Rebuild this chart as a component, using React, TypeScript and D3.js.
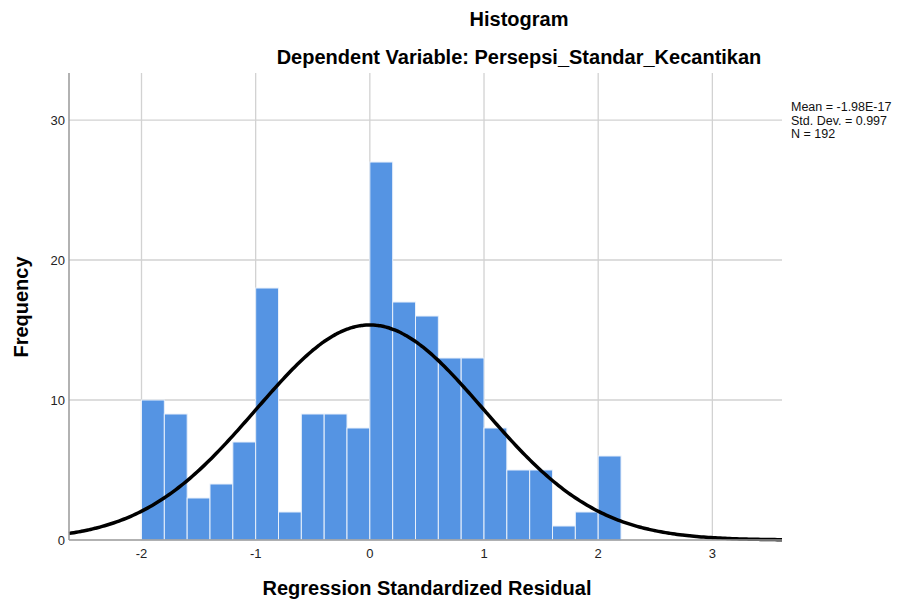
import { useEffect, useRef } from "react";
import * as d3 from "d3";

// histogram bins (start of each 0.2-wide bin) and counts
const BIN_STARTS = [-2.0, -1.8, -1.6, -1.4, -1.2, -1.0, -0.8, -0.6, -0.4, -0.2, 0.0, 0.2, 0.4, 0.6, 0.8, 1.0, 1.2, 1.4, 1.6, 1.8, 2.0];
const COUNTS = [10, 9, 3, 4, 7, 18, 2, 9, 9, 8, 27, 17, 16, 13, 13, 8, 5, 5, 1, 2, 6];
const BIN_WIDTH = 0.2;
const MEAN = -1.98e-17;
const SD = 0.997;
const N = 192;
const X_TICKS = [-2, -1, 0, 1, 2, 3];
const Y_TICKS = [0, 10, 20, 30];
const STATS = ["Mean = -1.98E-17", "Std. Dev. = 0.997", "N = 192"];

const FONT = "'Liberation Sans', Arial, sans-serif";

const App = () => {
  const svgRef = useRef<SVGSVGElement>(null);

  useEffect(() => {
    if (!svgRef.current) return;
    const width = 900;
    const height = 604;
    const margin = { top: 73, right: 118, bottom: 64, left: 69 };

    const svg = d3.select(svgRef.current);
    svg.selectAll("*").remove();

    const x = d3.scaleLinear().domain([-2.635, 3.61]).range([margin.left, width - margin.right]);
    const y = d3.scaleLinear().domain([0, 33.36]).range([height - margin.bottom, margin.top]);

    // Gridlines
    svg
      .append("g")
      .selectAll("line")
      .data(Y_TICKS.filter((t) => t > 0))
      .join("line")
      .attr("x1", margin.left)
      .attr("x2", width - margin.right)
      .attr("y1", (d) => y(d))
      .attr("y2", (d) => y(d))
      .attr("stroke", "#d2d2d2")
      .attr("stroke-width", 1.3);

    svg
      .append("g")
      .selectAll("line")
      .data(X_TICKS)
      .join("line")
      .attr("x1", (d) => x(d))
      .attr("x2", (d) => x(d))
      .attr("y1", margin.top)
      .attr("y2", height - margin.bottom)
      .attr("stroke", "#d2d2d2")
      .attr("stroke-width", 1.3);

    // Bars
    svg
      .append("g")
      .selectAll("rect")
      .data(COUNTS)
      .join("rect")
      .attr("x", (_, i) => x(BIN_STARTS[i]))
      .attr("y", (d) => y(d))
      .attr("width", (_, i) => x(BIN_STARTS[i] + BIN_WIDTH) - x(BIN_STARTS[i]))
      .attr("height", (d) => y(0) - y(d))
      .attr("fill", "#5594e3")
      .attr("stroke", "#e8f0fb")
      .attr("stroke-width", 1);

    // Normal curve
    const [x0, x1] = x.domain();
    const pts = d3.range(0, 301).map((i) => x0 + ((x1 - x0) * i) / 300);
    const pdf = (v: number) =>
      (N * BIN_WIDTH * Math.exp(-((v - MEAN) ** 2) / (2 * SD * SD))) / (SD * Math.sqrt(2 * Math.PI));
    const line = d3
      .line<number>()
      .x((d) => x(d))
      .y((d) => y(pdf(d)))
      .curve(d3.curveBasis);
    svg
      .append("path")
      .datum(pts)
      .attr("d", line)
      .attr("fill", "none")
      .attr("stroke", "#000")
      .attr("stroke-width", 3.5);

    // Axes lines
    svg
      .append("line")
      .attr("x1", margin.left)
      .attr("x2", margin.left)
      .attr("y1", margin.top)
      .attr("y2", height - margin.bottom)
      .attr("stroke", "#999")
      .attr("stroke-width", 1.5);
    svg
      .append("line")
      .attr("x1", margin.left)
      .attr("x2", width - margin.right)
      .attr("y1", height - margin.bottom)
      .attr("y2", height - margin.bottom)
      .attr("stroke", "#999")
      .attr("stroke-width", 1.5);

    // Tick labels
    svg
      .append("g")
      .selectAll("text")
      .data(Y_TICKS)
      .join("text")
      .attr("x", margin.left - 4)
      .attr("y", (d) => y(d) + 5)
      .attr("text-anchor", "end")
      .attr("font-family", FONT)
      .attr("font-size", "13px")
      .attr("fill", "#222")
      .text((d) => d);

    svg
      .append("g")
      .selectAll("text")
      .data(X_TICKS)
      .join("text")
      .attr("x", (d) => x(d))
      .attr("y", height - margin.bottom + 18)
      .attr("text-anchor", "middle")
      .attr("font-family", FONT)
      .attr("font-size", "13px")
      .attr("fill", "#222")
      .text((d) => d);

    // Titles
    svg
      .append("text")
      .attr("x", 519)
      .attr("y", 26)
      .attr("text-anchor", "middle")
      .attr("font-family", FONT)
      .attr("font-weight", "bold")
      .attr("font-size", "20px")
      .text("Histogram");
    svg
      .append("text")
      .attr("x", 519)
      .attr("y", 64)
      .attr("text-anchor", "middle")
      .attr("font-family", FONT)
      .attr("font-weight", "bold")
      .attr("font-size", "20px")
      .text("Dependent Variable: Persepsi_Standar_Kecantikan");

    // Axis labels
    svg
      .append("text")
      .attr("x", 427)
      .attr("y", 595)
      .attr("text-anchor", "middle")
      .attr("font-family", FONT)
      .attr("font-weight", "bold")
      .attr("font-size", "20px")
      .text("Regression Standardized Residual");
    svg
      .append("text")
      .attr("transform", "rotate(-90)")
      .attr("x", -307)
      .attr("y", 28)
      .attr("text-anchor", "middle")
      .attr("font-family", FONT)
      .attr("font-weight", "bold")
      .attr("font-size", "20px")
      .text("Frequency");

    // Stats
    svg
      .append("g")
      .selectAll("text")
      .data(STATS)
      .join("text")
      .attr("x", 791)
      .attr("y", (_, i) => 111 + i * 13.5)
      .attr("font-family", FONT)
      .attr("font-size", "12.5px")
      .attr("fill", "#111")
      .text((d) => d);
  }, []);

  return <svg ref={svgRef} width={900} height={604} style={{ position: "absolute", left: 0, top: 0, background: "#fff" }} />;
};

export default App;
